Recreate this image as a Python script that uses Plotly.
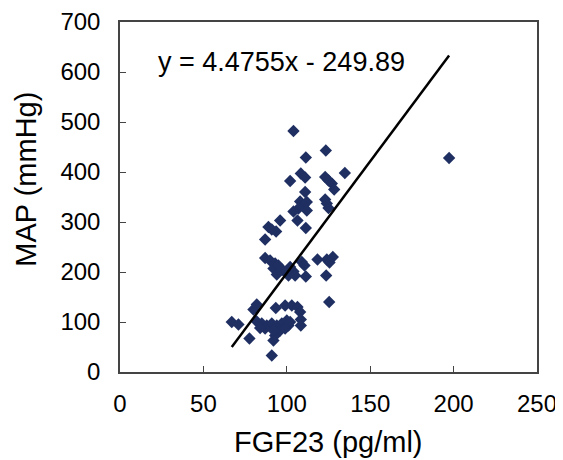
import plotly.graph_objects as go

# FGF23 (pg/ml) and MAP (mmHg) values
fgf23 = [104.0, 123.4, 111.4, 134.8, 108.4, 111.0, 102.0, 123.0, 125.0, 127.0,
         128.4, 111.0, 123.0, 124.0, 125.0, 108.0, 110.0, 112.0, 107.0, 112.0,
         104.0, 106.4, 111.4, 96.0, 89.0, 93.6, 91.0, 87.0, 87.0, 90.0,
         93.0, 92.0, 95.0, 97.0, 99.0, 102.0, 104.0, 101.0, 105.0, 94.0,
         109.0, 110.6, 111.4, 118.4, 124.0, 127.6, 125.6, 123.6, 125.4, 82.0,
         80.0, 93.4, 99.0, 103.0, 106.4, 108.0, 108.4, 108.4, 67.0, 71.0,
         77.6, 91.0, 92.0, 93.0, 82.0, 85.0, 88.0, 91.0, 94.0, 97.0,
         100.0, 101.0, 96.0, 92.0, 87.0, 84.0, 99.0, 102.0, 197.3]
map_mmhg = [482, 443, 429, 398, 397, 389, 382, 390, 383, 377,
            365, 360, 345, 337, 328, 341, 333, 340, 327, 323,
            321, 303, 288, 303, 290, 281, 285, 265, 228, 223,
            217, 207, 213, 205, 200, 210, 201, 193, 193, 195,
            220, 213, 191, 225, 225, 230, 219, 193, 140, 135,
            125, 128, 133, 133, 130, 120, 105, 93, 100, 95,
            67, 33, 63, 73, 101, 97, 93, 97, 93, 97,
            103, 93, 83, 83, 87, 88, 87, 100, 428]

# Trend line equation shown on the chart
slope = 4.4755
intercept = -249.89
equation_label = "y = 4.4755x - 249.89"

x_ticks = [0, 50, 100, 150, 200, 250]
y_ticks = [0, 100, 200, 300, 400, 500, 600, 700]

FONT = "Liberation Sans, Arial, sans-serif"

line_x = [min(fgf23), max(fgf23)]
line_y = [slope * v + intercept for v in line_x]

fig = go.Figure()
fig.add_trace(go.Scatter(
    x=fgf23, y=map_mmhg, mode="markers",
    marker=dict(symbol="diamond", size=9.5, color="#1F2F62", line=dict(width=0)),
    showlegend=False, hoverinfo="x+y"))
fig.add_trace(go.Scatter(
    x=line_x, y=line_y, mode="lines",
    line=dict(color="black", width=2.5),
    showlegend=False, hoverinfo="skip"))

fig.add_annotation(x=96.6, y=620, xref="x", yref="y", text=equation_label,
                   showarrow=False, font=dict(family=FONT, size=27, color="black"))
fig.add_annotation(x=0.5, y=-0.2, xref="paper", yref="paper", text="FGF23 (pg/ml)",
                   showarrow=False, yanchor="middle",
                   font=dict(family=FONT, size=29, color="black"))
fig.add_annotation(x=-0.225, y=0.55, xref="paper", yref="paper", text="MAP (mmHg)",
                   showarrow=False, textangle=-90, xanchor="center",
                   font=dict(family=FONT, size=29, color="black"))

axis_common = dict(showgrid=False, zeroline=False, showline=True, linecolor="#444444",
                   linewidth=1.5, mirror=True, ticks="inside", ticklen=6,
                   tickcolor="#444444", tickwidth=1.2, automargin=False,
                   ticklabeloverflow="allow",
                   tickfont=dict(family=FONT, size=24, color="black"))

fig.update_xaxes(range=[0, 250], tickvals=x_ticks, ticklabelstandoff=9, **axis_common)
fig.update_yaxes(range=[0, 700], tickvals=y_ticks, ticklabelstandoff=13, **axis_common)

# page body has an 8px default margin, so the figure is sized/offset to compensate
fig.update_layout(width=555, height=452, margin=dict(l=112, r=26, t=14, b=88),
                  plot_bgcolor="white", paper_bgcolor="white",
                  font=dict(family=FONT, color="black"))

fig.write_html("out.html")
